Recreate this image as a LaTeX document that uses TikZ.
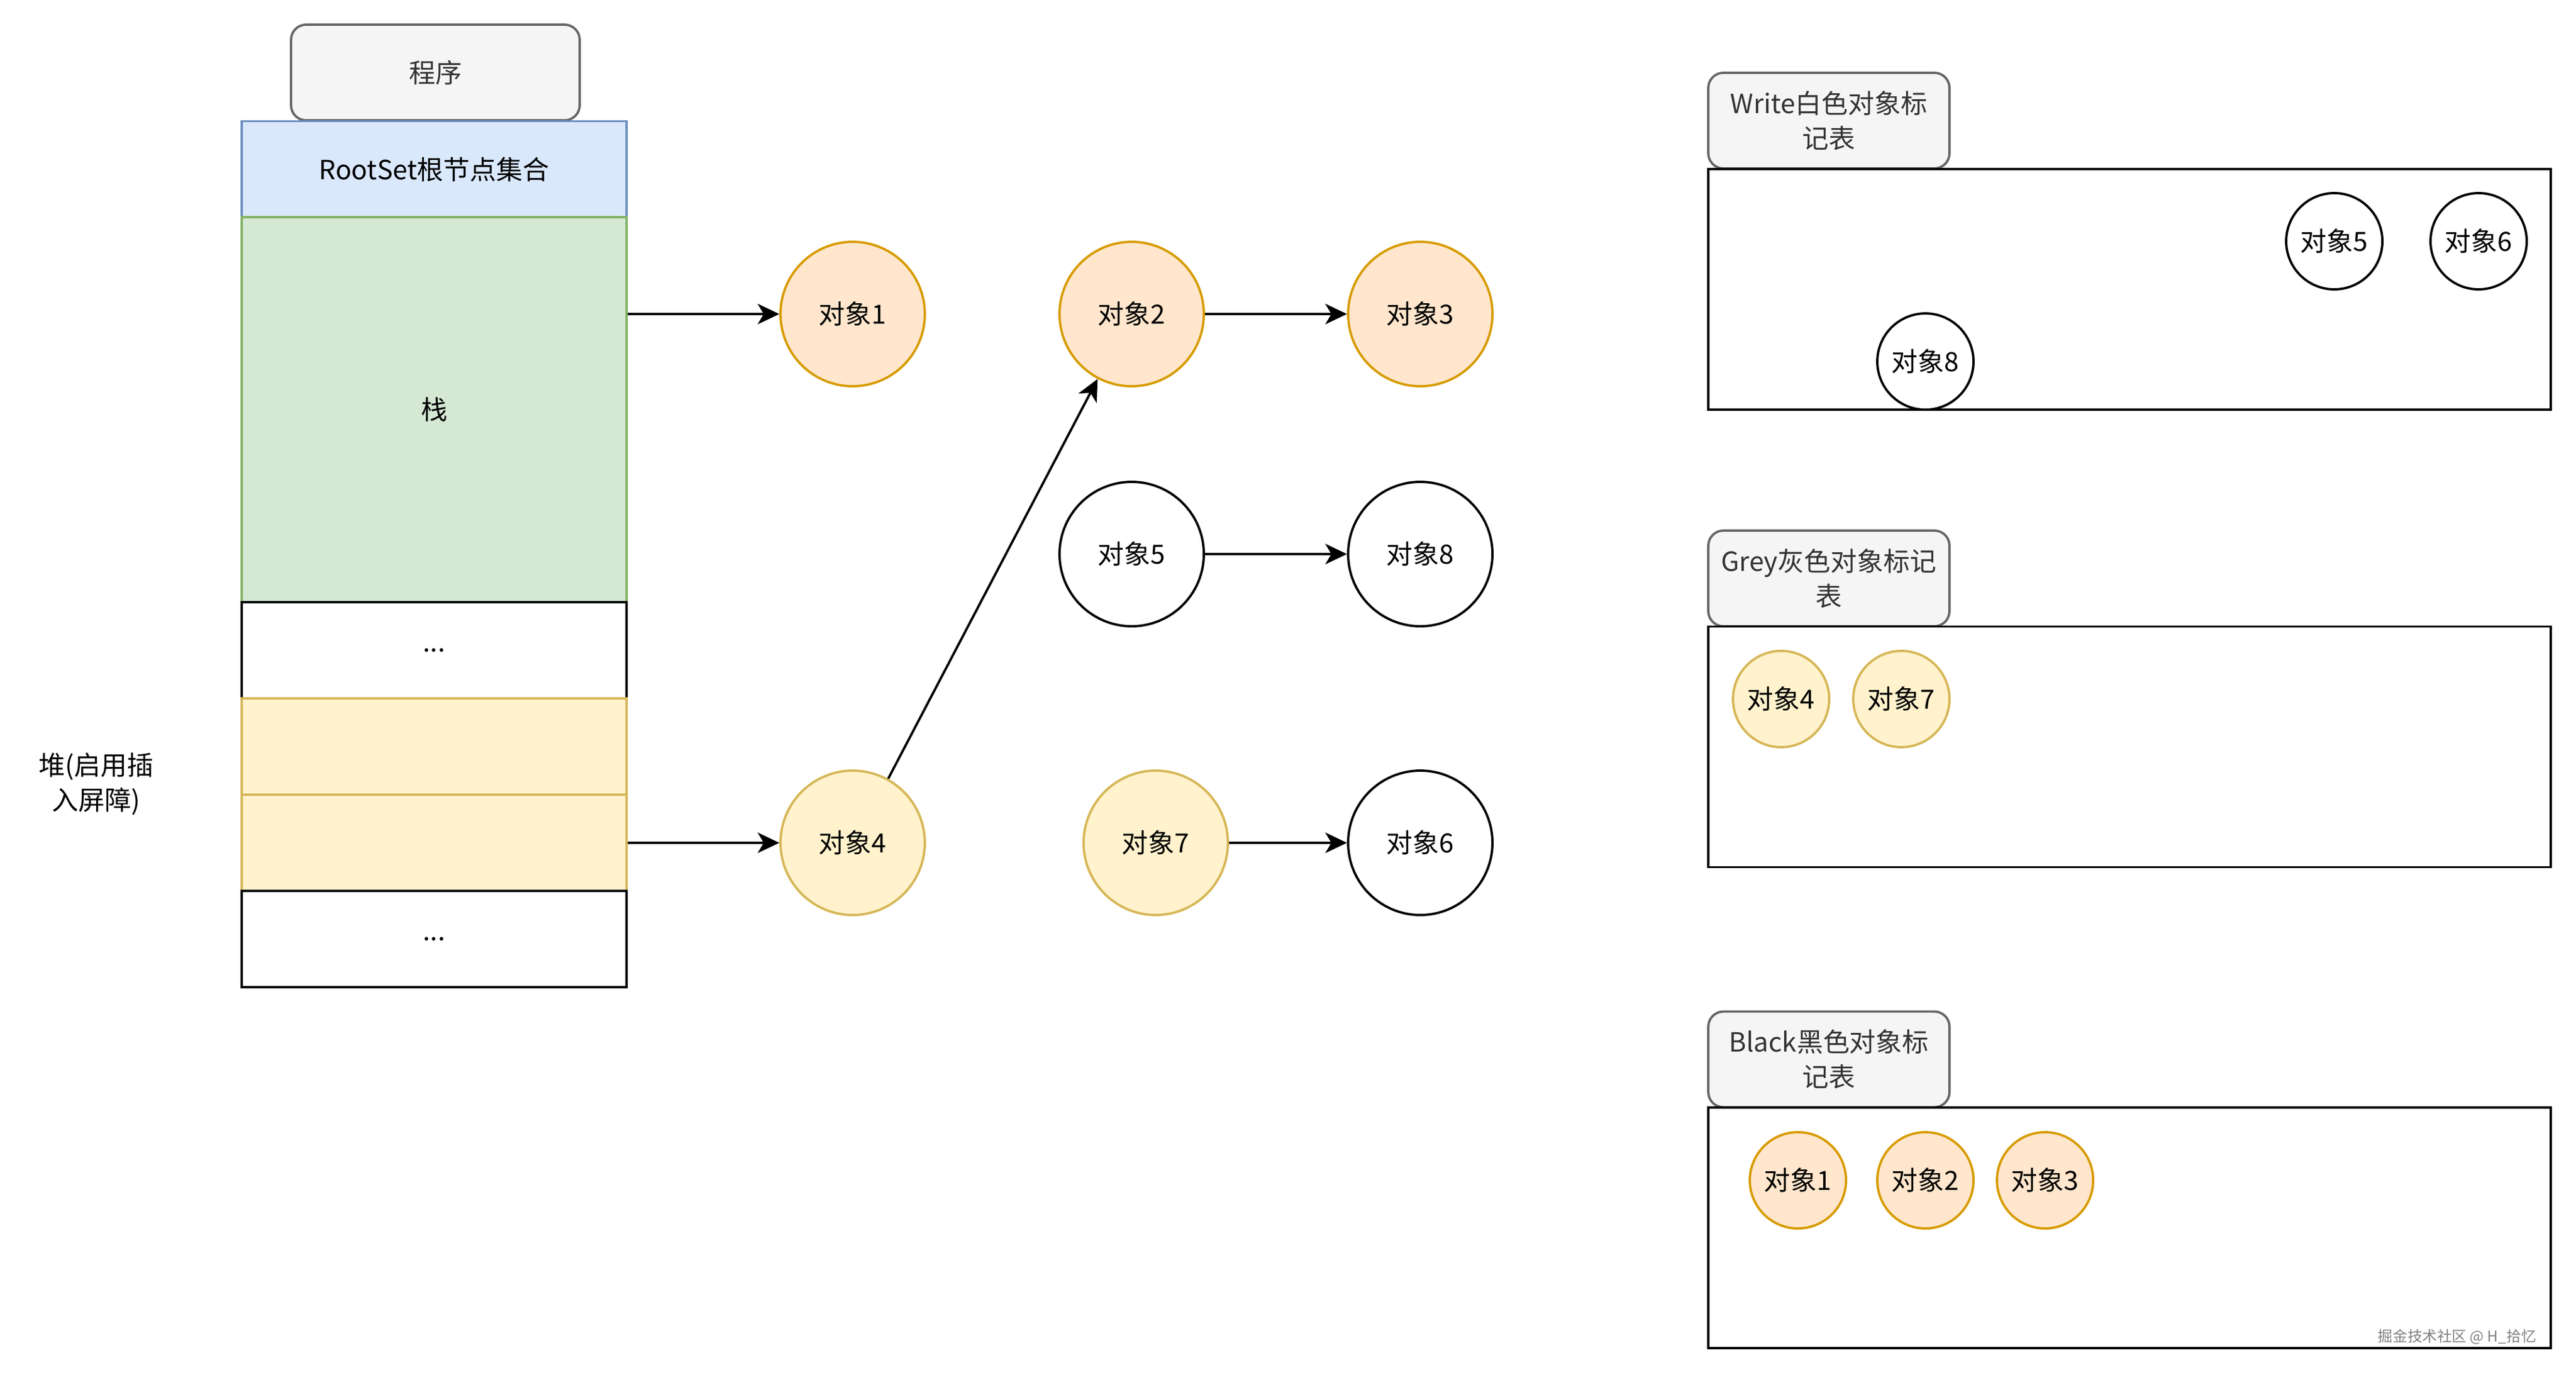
\documentclass[tikz,border=0pt]{standalone}
\usepackage{fontspec}
\setmainfont{Noto Sans CJK SC}
\usepackage{tikz}
\usetikzlibrary{arrows.meta}
\definecolor{tagfill}{HTML}{F5F5F5}
\definecolor{tagline}{HTML}{666666}
\definecolor{tagtext}{HTML}{333333}
\definecolor{bluefill}{HTML}{DAE8FC}
\definecolor{blueline}{HTML}{6C8EBF}
\definecolor{greenfill}{HTML}{D5E8D4}
\definecolor{greenline}{HTML}{82B366}
\definecolor{yelfill}{HTML}{FFF2CC}
\definecolor{yelline}{HTML}{D6B656}
\definecolor{orgfill}{HTML}{FFE6CC}
\definecolor{orgline}{HTML}{D79B00}
\def\obj#1{对象#1}
\tikzset{
	cell/.style={draw, line width=1.1pt, minimum width=6.4cm, minimum height=1.6cm, inner sep=0pt},
	tag/.style={draw=tagline, fill=tagfill, text=tagtext, rounded corners=0.25cm, line width=1.1pt, minimum width=4.01cm, minimum height=1.59cm, inner sep=0pt, align=center},
	table/.style={draw, line width=1.1pt, minimum width=14.01cm, minimum height=4.0cm, inner sep=0pt},
	big/.style={circle, line width=1.1pt, minimum size=2.4cm, inner sep=0pt},
	small/.style={circle, line width=1.1pt, minimum size=1.6cm, inner sep=0pt},
	orgobj/.style={draw=orgline, fill=orgfill},
	yelobj/.style={draw=yelline, fill=yelfill},
	whiteobj/.style={draw=black, fill=white},
	arr/.style={-{Stealth[length=3.6mm, width=3.4mm, inset=1mm]}, line width=1.1pt}
}
\begin{document}
\begin{tikzpicture}[font=\fontsize{12.5pt}{16.5pt}\selectfont]
			%%%%% START %%%%%
			\useasboundingbox (0, 0) rectangle (42.84, -22.88);
			
			% program column
			\node[tag, minimum width=4.8cm] (prog) at (7.24, -1.205) {程序};
			\node[cell, draw=blueline, fill=bluefill] (root) at (7.22, -2.815) {RootSet根节点集合};
			\node[cell, draw=greenline, fill=greenfill, minimum height=6.4cm] (stack) at (7.22, -6.81) {栈};
			\node[cell, fill=white] (dotsa) at (7.22, -10.81) {...};
			\node[cell, draw=yelline, fill=yelfill] (heapa) at (7.22, -12.41) {};
			\node[cell, draw=yelline, fill=yelfill] (heapb) at (7.22, -14.01) {};
			\node[cell, fill=white] (dotsb) at (7.22, -15.61) {...};
			\node[align=center] (heap) at (1.60, -13.03) {堆(启用插\\入屏障)};
			
			% objects
			\node[big, orgobj] (o1) at (14.18, -5.22) {\obj1};
			\node[big, orgobj] (o2) at (18.82, -5.22) {\obj2};
			\node[big, orgobj] (o3) at (23.62, -5.22) {\obj3};
			\node[big, whiteobj] (o5) at (18.82, -9.21) {\obj5};
			\node[big, whiteobj] (o8) at (23.62, -9.21) {\obj8};
			\node[big, yelobj] (o4) at (14.18, -14.01) {\obj4};
			\node[big, yelobj] (o7) at (19.22, -14.01) {\obj7};
			\node[big, whiteobj] (o6) at (23.62, -14.01) {\obj6};
			
			\draw[arr] (stack.east |- o1) -- (o1);
			\draw[arr] (heapb.east) -- (o4);
			\draw[arr] (o4.61) -- (o2);
			\draw[arr] (o2) -- (o3);
			\draw[arr] (o5) -- (o8);
			\draw[arr] (o7) -- (o6);
			
			% white table
			\node[tag] (wtag) at (30.415, -2.005) {Write白色对象标\\记表};
			\node[table] (wtab) at (35.415, -4.81) {};
			\node[small, whiteobj] (w5) at (38.82, -4.01) {\obj5};
			\node[small, whiteobj] (w6) at (41.22, -4.01) {\obj6};
			\node[small, whiteobj] (w8) at (32.02, -6.01) {\obj8};
			
			% grey table
			\node[tag] (gtag) at (30.415, -9.615) {Grey灰色对象标记\\表};
			\node[table] (gtab) at (35.415, -12.415) {};
			\node[small, yelobj] (g4) at (29.62, -11.62) {\obj4};
			\node[small, yelobj] (g7) at (31.62, -11.62) {\obj7};
			
			% black table
			\node[tag] (btag) at (30.415, -17.61) {Black黑色对象标\\记表};
			\node[table] (btab) at (35.415, -20.41) {};
			\node[small, orgobj] (b1) at (29.90, -19.62) {\obj1};
			\node[small, orgobj] (b2) at (32.02, -19.62) {\obj2};
			\node[small, orgobj] (b3) at (34.01, -19.62) {\obj3};
			
			\node[anchor=east, text=gray, font=\fontsize{7pt}{8pt}\selectfont] (mark) at (42.30, -22.22) {掘金技术社区 @ H\_拾忆};
			%%%%% END %%%%%
		\end{tikzpicture}
\end{document}
